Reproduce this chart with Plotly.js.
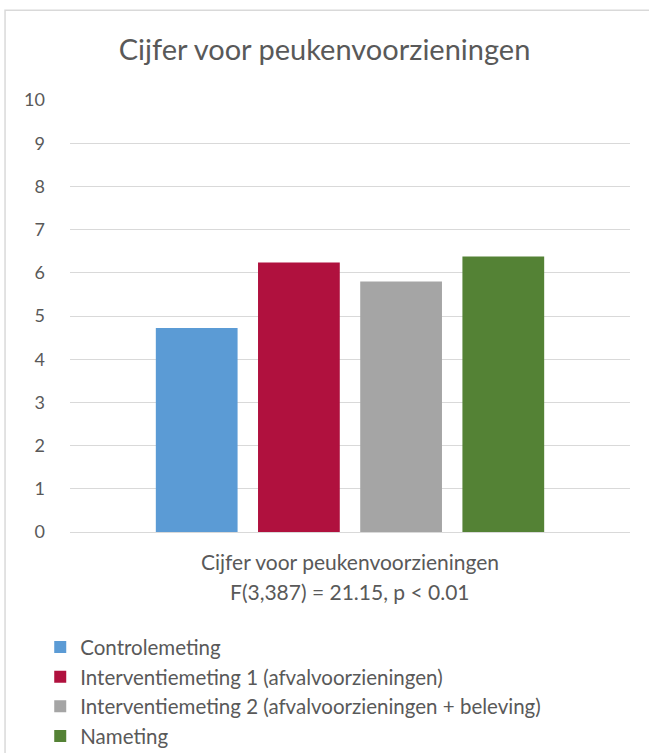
<!DOCTYPE html>
<html>
<head>
<meta charset="utf-8">
<script src="https://cdn.plot.ly/plotly-3.0.1.min.js"></script>
<style>
  body { margin: 0; padding: 0; background: #fff; }
  #plot { width: 649px; height: 753px; }
</style>
</head>
<body>
<div id="plot"></div>
<script>
var categories = ['Cijfer voor peukenvoorzieningen'];
var statsLine = 'F(3,387) = 21.15, p < 0.01';

var seriesNames = [
  'Controlemeting',
  'Interventiemeting 1 (afvalvoorzieningen)',
  'Interventiemeting 2 (afvalvoorzieningen + beleving)',
  'Nameting'
];
var controlemeting = [4.72];
var interventie1 = [6.24];
var interventie2 = [5.80];
var nameting = [6.38];
var colors = ['#5b9bd5', '#b0113e', '#a5a5a5', '#548235'];

var seriesValues = [controlemeting, interventie1, interventie2, nameting];

var data = seriesNames.map(function (name, i) {
  return {
    x: categories,
    y: seriesValues[i],
    name: name,
    type: 'bar',
    marker: {color: colors[i]},
    hoverinfo: 'y+name'
  };
});

var textColor = '#595959';
var fontFam = 'Lato, "Open Sans", sans-serif';

var layout = {
  width: 649,
  height: 753,
  barmode: 'group',
  bargap: 0.27,
  bargroupgap: 0.2,
  paper_bgcolor: '#fff',
  plot_bgcolor: '#fff',
  font: {family: fontFam, color: textColor},
  margin: {l: 70, r: 19, t: 100, b: 221, autoexpand: false},
  title: {
    text: 'Cijfer voor peukenvoorzieningen',
    font: {size: 29, color: textColor, family: fontFam},
    x: 0.5,
    xanchor: 'center',
    y: 0.934,
    yanchor: 'middle'
  },
  xaxis: {
    type: 'category',
    tickfont: {size: 21, color: textColor},
    ticklabelstandoff: 16,
    showgrid: false,
    zeroline: false,
    showline: false,
    ticks: '',
    automargin: false
  },
  yaxis: {
    range: [0, 10],
    dtick: 1,
    tickfont: {size: 18, color: textColor},
    showgrid: true,
    gridcolor: '#d9d9d9',
    gridwidth: 1,
    zeroline: true,
    zerolinecolor: '#d9d9d9',
    zerolinewidth: 1,
    showline: false,
    ticks: '',
    ticklabelstandoff: 24,
    automargin: false
  },
  annotations: [{
    text: statsLine,
    xref: 'paper', yref: 'paper',
    x: 0.5, y: -0.137,
    xanchor: 'center', yanchor: 'middle',
    showarrow: false,
    font: {size: 21, color: textColor}
  }],
  showlegend: true,
  legend: {
    orientation: 'v',
    xref: 'container', yref: 'container',
    x: 0.062,
    xanchor: 'left',
    y: 0.167,
    yanchor: 'top',
    font: {size: 20.5, color: textColor},
    tracegroupgap: 0,
    itemwidth: 30,
    bgcolor: 'rgba(0,0,0,0)'
  },
  shapes: [{
    type: 'rect',
    xref: 'paper', yref: 'paper',
    x0: -0.116, x1: 1.2,
    y0: -0.6, y1: 1.208,
    line: {color: '#d9d9d9', width: 1.5},
    fillcolor: 'rgba(0,0,0,0)',
    layer: 'below'
  }]
};

Plotly.newPlot('plot', data, layout, {displayModeBar: false, staticPlot: true});
</script>
</body>
</html>
